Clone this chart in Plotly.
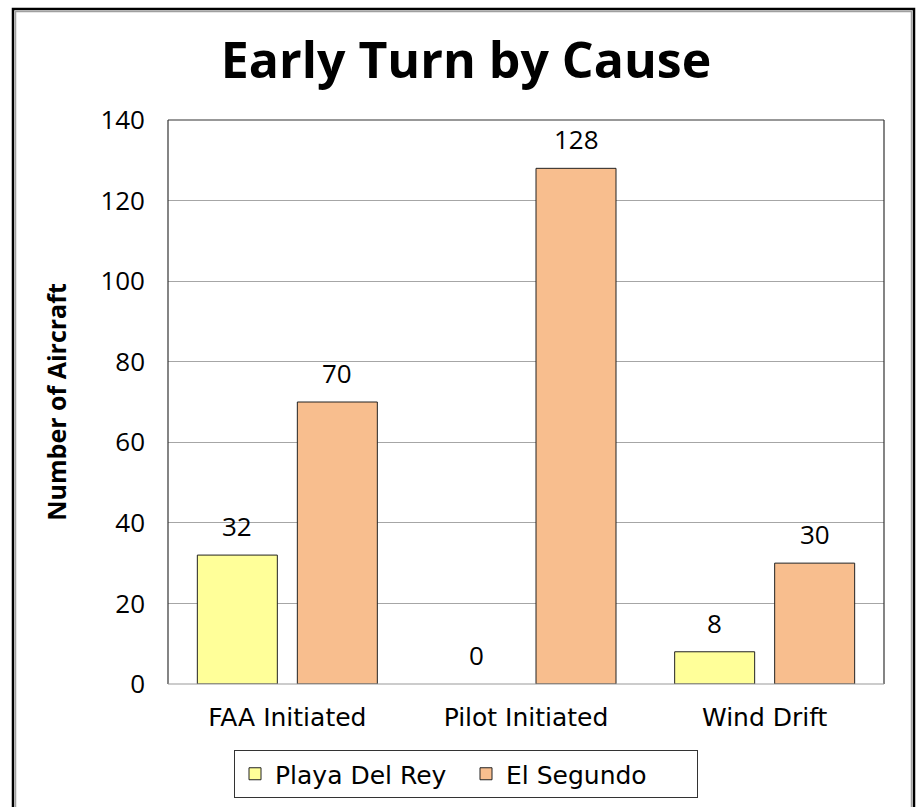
import plotly.graph_objects as go

categories = ["FAA Initiated", "Pilot Initiated", "Wind Drift"]
playa_del_rey = [32, 0, 8]
el_segundo = [70, 128, 30]
series_names = ["Playa Del Rey", "El Segundo"]
y_ticks = [0, 20, 40, 60, 80, 100, 120, 140]

W, H = 917, 807
L, R, T, B = 168, 884, 120, 684
NUMFONT = "Open Sans"
TXTFONT = "DejaVu Sans"

fig = go.Figure()
annotations = []
for name, vals, color, shift in [(series_names[0], playa_del_rey, "#FFFF99", -50),
                                 (series_names[1], el_segundo, "#F8BE8E", 50)]:
    fig.add_trace(go.Bar(
        x=categories, y=vals, name=name,
        marker=dict(color=color,
                    line=dict(color="#222222",
                              width=[0 if v == 0 else 1 for v in vals])),
        cliponaxis=False,
    ))
    for c, v in zip(categories, vals):
        annotations.append(dict(x=c, y=v, xref="x", yref="y", text=str(v),
                                showarrow=False, xshift=shift, yshift=9,
                                yanchor="bottom", xanchor="center",
                                font=dict(family=NUMFONT, size=26, color="black")))

def px_x(p):
    return (p - L) / (R - L)

def px_y(p):
    return (B - p) / (B - T)

shapes = []
# outer frame
shapes.append(dict(type="rect", xref="paper", yref="paper",
                   x0=px_x(13), x1=px_x(914), y0=px_y(830), y1=px_y(9),
                   line=dict(color="black", width=2.5), layer="above"))
shapes.append(dict(type="rect", xref="paper", yref="paper",
                   x0=px_x(15.5), x1=px_x(911.5), y0=px_y(830), y1=px_y(11.5),
                   line=dict(color="#A0A0A0", width=1.5), layer="above"))
# plot area border
for (x0, y0, x1, y1, c) in [(0, 1, 1, 1, "#333333"), (0, 0, 0, 1, "#333333"),
                            (1, 0, 1, 1, "#333333"), (0, 0, 1, 0, "#999999")]:
    shapes.append(dict(type="line", xref="paper", yref="paper",
                       x0=x0, y0=y0, x1=x1, y1=y1,
                       line=dict(color=c, width=1.2), layer="above"))

fig.update_layout(
    width=W, height=H,
    margin=dict(l=L, r=W - R, t=T, b=H - B, autoexpand=False),
    paper_bgcolor="white", plot_bgcolor="white",
    title=dict(text="<b>Early Turn by Cause</b>", x=466 / W, xanchor="center",
               y=1 - 60 / H, yanchor="middle",
               font=dict(family=NUMFONT, size=50, color="black")),
    barmode="group", bargap=0.162, bargroupgap=0.2,
    font=dict(family=TXTFONT, size=25, color="black"),
    xaxis=dict(showgrid=False, showline=False, ticks="",
               tickfont=dict(family=TXTFONT, size=25, color="black"),
               ticklabelstandoff=16),
    yaxis=dict(range=[0, 140], tickvals=y_ticks, showgrid=True,
               gridcolor="#A6A6A6", gridwidth=1, zeroline=False,
               showline=False, ticks="",
               tickfont=dict(family=NUMFONT, size=26, color="black"),
               ticklabelstandoff=22,
               title=dict(text="<b>Number of Aircraft</b>",
                          font=dict(family=NUMFONT, size=25, color="black"),
                          standoff=26)),
    legend=dict(orientation="h", x=px_x(466), xanchor="center",
                y=px_y(750), yanchor="top",
                bordercolor="#333333", borderwidth=1,
                font=dict(family=TXTFONT, size=25, color="black"),
                itemwidth=30, traceorder="normal",
                entrywidth=186, entrywidthmode="pixels"),
    shapes=shapes,
    annotations=annotations,
)

fig.write_html("out.html", config={"displayModeBar": False},
               post_script="document.body.style.margin='0';document.body.style.overflow='hidden';")
